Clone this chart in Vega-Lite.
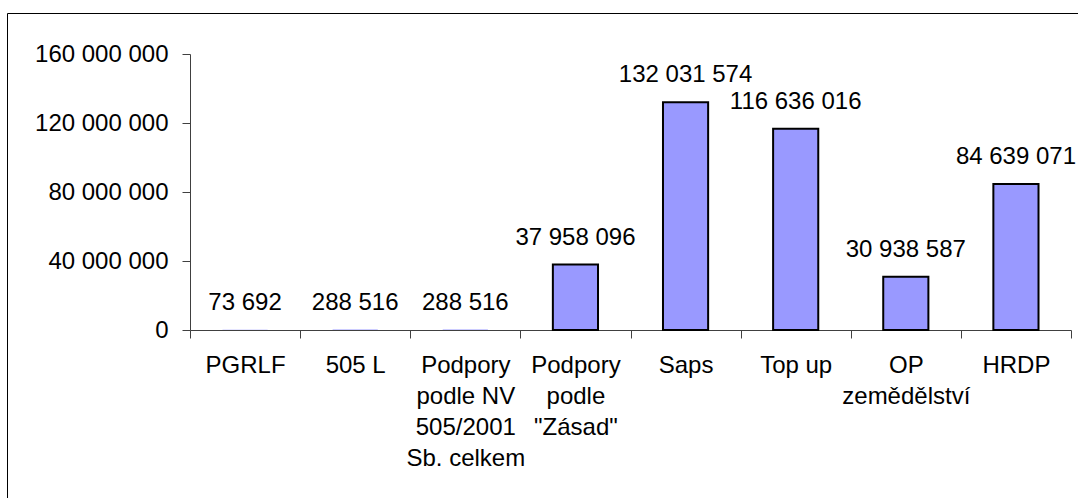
{
  "$schema": "https://vega.github.io/schema/vega-lite/v6.json",
  "autosize": {"type": "none"},
  "width": 1074,
  "height": 490,
  "padding": {"left": 7, "top": 13, "right": -3, "bottom": -5},
  "background": "#ffffff",
  "config": {
    "locale": {"number": {"decimal": ",", "thousands": "\u00a0", "grouping": [3], "currency": ["", ""]}},
    "view": {"stroke": "#000000", "strokeWidth": 1},
    "font": "Liberation Sans",
    "axis": {"labelFont": "Liberation Sans", "labelColor": "#000000", "labelFontSize": 24, "domainColor": "#404040", "tickColor": "#404040", "grid": false, "title": null}
  },
  "data": {
    "values": [
      {"kategorie": "PGRLF", "castka": 73692},
      {"kategorie": "505 L", "castka": 288516},
      {"kategorie": "Podpory|podle NV|505/2001|Sb. celkem", "castka": 288516},
      {"kategorie": "Podpory|podle|\"Zásad\"", "castka": 37958096},
      {"kategorie": "Saps", "castka": 132031574},
      {"kategorie": "Top up", "castka": 116636016},
      {"kategorie": "OP|zemědělství", "castka": 30938587},
      {"kategorie": "HRDP", "castka": 84639071}
    ]
  },
  "encoding": {
    "x": {
      "field": "kategorie",
      "type": "nominal",
      "sort": null,
      "scale": {"type": "band", "range": [183, 1064], "paddingInner": 0, "paddingOuter": 0},
      "axis": {
        "orient": "bottom",
        "offset": -173,
        "tickBand": "extent",
        "tickSize": 8,
        "labelAngle": 0,
        "labelBaseline": "top",
        "labelPadding": 15,
        "labelLineHeight": 31,
        "labelExpr": "split(datum.label, '|')"
      }
    },
    "y": {
      "field": "castka",
      "type": "quantitative",
      "scale": {"domain": [0, 160000000], "range": [317, 41], "nice": false},
      "axis": {
        "orient": "left",
        "offset": -183,
        "values": [0, 40000000, 80000000, 120000000, 160000000],
        "format": ",d",
        "tickSize": 8,
        "labelPadding": 14
      }
    }
  },
  "layer": [
    {
      "mark": {"type": "bar", "width": {"band": 0.41}, "fill": "#9999FF", "stroke": "#000000"},
      "encoding": {
        "strokeWidth": {"condition": {"test": "datum.castka < 1000000", "value": 0}, "value": 2}
      }
    },
    {
      "mark": {"type": "text", "baseline": "alphabetic", "dy": -20, "fontSize": 24, "font": "Liberation Sans", "color": "#000000"},
      "encoding": {"text": {"field": "castka", "type": "quantitative", "format": ",d"}}
    }
  ]
}
